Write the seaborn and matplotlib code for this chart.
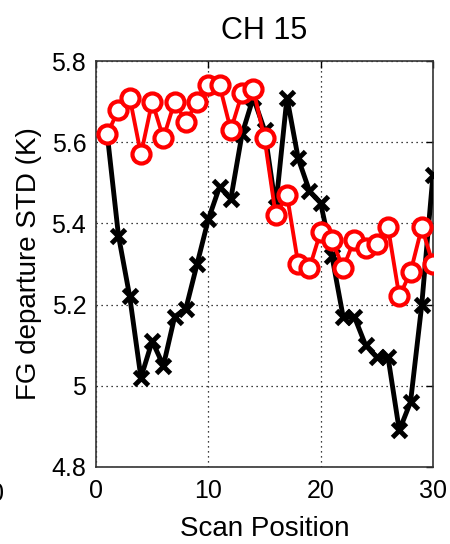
import numpy as np
import pandas as pd
import matplotlib
matplotlib.use("Agg")
import matplotlib.pyplot as plt
import seaborn as sns

scan_pos = list(range(1, 31))
black_std = [5.62, 5.37, 5.22, 5.02, 5.11, 5.05, 5.17, 5.19, 5.30, 5.41,
             5.49, 5.46, 5.62, 5.71, 5.63, 5.44, 5.71, 5.56, 5.48, 5.45,
             5.32, 5.17, 5.17, 5.10, 5.07, 5.07, 4.89, 4.96, 5.20, 5.52]
red_std = [5.62, 5.68, 5.71, 5.57, 5.70, 5.61, 5.70, 5.65, 5.70, 5.74,
           5.74, 5.63, 5.72, 5.73, 5.61, 5.42, 5.47, 5.30, 5.29, 5.38,
           5.36, 5.29, 5.36, 5.34, 5.35, 5.39, 5.22, 5.28, 5.39, 5.30]
x_ticks = [0, 10, 20, 30]
y_ticks = [4.8, 5.0, 5.2, 5.4, 5.6, 5.8]
y_tick_labels = ["4.8", "5", "5.2", "5.4", "5.6", "5.8"]

sns.set_style("white")
plt.rcParams['font.family'] = ['Liberation Sans', 'DejaVu Sans']
plt.rcParams['text.color'] = 'black'
plt.rcParams['axes.labelcolor'] = 'black'
plt.rcParams['xtick.color'] = 'black'
plt.rcParams['ytick.color'] = 'black'

df_black = pd.DataFrame({"pos": scan_pos, "std": black_std})
df_red = pd.DataFrame({"pos": scan_pos, "std": red_std})

fig = plt.figure(figsize=(4.5, 5.44), dpi=100)
ax = fig.add_axes([96/450, 1-467/544, (433-96)/450, (467-61)/544])

sns.lineplot(data=df_black, x="pos", y="std", ax=ax, color="black",
             linewidth=3.5, marker="x", markersize=10, markeredgewidth=3.5,
             markeredgecolor="black", zorder=3)
sns.lineplot(data=df_red, x="pos", y="std", ax=ax, color="red",
             linewidth=2.8, marker="o", markersize=13, markeredgewidth=3.0,
             markeredgecolor="red", markerfacecolor="white", zorder=4)

ax.set_xlim(0, 30)
ax.set_ylim(4.8, 5.8)
ax.set_xticks(x_ticks)
ax.set_yticks(y_ticks)
ax.set_yticklabels(y_tick_labels)
ax.tick_params(direction="in", length=5, width=1, labelsize=18,
               top=True, right=True)
ax.tick_params(axis="x", pad=9)
ax.tick_params(axis="y", pad=7)
ax.grid(True, linestyle=(0, (1, 3)), color="black", linewidth=0.9)
for s in ax.spines.values():
    s.set_color("#333333")
    s.set_linewidth(1.2)
ax.set_xlabel("Scan Position", fontsize=20, labelpad=9)
ax.set_ylabel("FG departure STD (K)", fontsize=20, labelpad=7)
ax.set_title("CH 15", fontsize=22, pad=16)

fig.text(4/450, 1-494/544, "30", ha="right", va="center", fontsize=18)

fig.savefig("out.png", dpi=100)
